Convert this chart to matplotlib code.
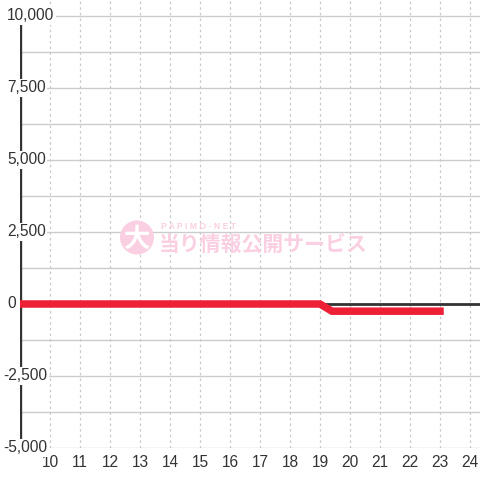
import matplotlib.pyplot as plt
import matplotlib.transforms as mtransforms
from matplotlib.patches import Circle

# data
games = [9, 19, 19.4, 23]
diff = [0, 0, -250, -250]
x_ticks = list(range(10, 25))
y_ticks = [10000, 7500, 5000, 2500, 0, -2500, -5000]
y_labels = ['10,000', '7,500', '5,000', '2,500', '0', '-2,500', '-5,000']
y_grid = list(range(-5000, 10001, 1250))

plt.rcParams['font.family'] = ['Liberation Sans', 'DejaVu Sans']

fig = plt.figure(figsize=(4.8, 4.8), dpi=100)
fig.patch.set_facecolor('white')
ax = fig.add_axes([20 / 480, 32 / 480, 460 / 480, 448 / 480])
ymax = 10000 + 16 / 72 * 2500
ax.set_xlim(9, 9 + 460 / 30)
ax.set_ylim(-5000, ymax)
for s in ax.spines.values():
    s.set_visible(False)
ax.set_yticks([])
ax.set_xticks(x_ticks, [str(t) for t in x_ticks])
ax.tick_params(axis='x', length=0, pad=5, labelsize=11.2, colors='#333333')

# grid
for y in y_grid:
    ax.axhline(y, color='#cccccc', lw=1, zorder=1)
ax.vlines(x_ticks, -5000, ymax, colors='#c8c8c8', lw=0.9,
          linestyles=(0, (2, 2.5)), zorder=1)

# axis lines
ax.plot([9, 9], [-5000, 10000], color='#333333', lw=2.4, zorder=2,
        solid_capstyle='butt')
ax.axhline(0, color='#333333', lw=2, zorder=2)

# watermark
pink = '#fbcfe2'
fig.patches.append(Circle((1.37, 4.8 - 2.375), 0.17,
                          transform=fig.dpi_scale_trans,
                          facecolor=pink, edgecolor='none', zorder=1))
fig.text(137 / 480, 1 - 239 / 480, '大', color='white', fontsize=19,
         fontweight='bold', family=['Noto Sans CJK JP', 'DejaVu Sans'],
         ha='center', va='center', zorder=1)
fig.text(161 / 480, 1 - 226.5 / 480, 'P A P I M O - N E T', color=pink,
         fontsize=6.2, fontweight='bold', ha='left', va='center', zorder=1)
fig.text(159 / 480, 1 - 245 / 480, '当り情報公開サービス', color=pink,
         fontsize=15, fontweight='bold',
         family=['Noto Sans CJK JP', 'DejaVu Sans'],
         ha='left', va='center', zorder=1)

# series
ax.plot(games, diff, color='#ee2036', lw=5.4, solid_capstyle='projecting',
        solid_joinstyle='miter', zorder=3)

# y labels with white boxes over the axis line
trans = mtransforms.blended_transform_factory(ax.transAxes, ax.transData)
for v, lab in zip(y_ticks, y_labels):
    px = 3 if v < 0 else 7
    ax.text((px - 20) / 460, v, lab, transform=trans, ha='left', va='center',
            fontsize=11.2, color='#333333', zorder=5, clip_on=False,
            bbox=dict(facecolor='white', edgecolor='none', pad=1.2))

fig.savefig('out.png', dpi=100, facecolor='white')
